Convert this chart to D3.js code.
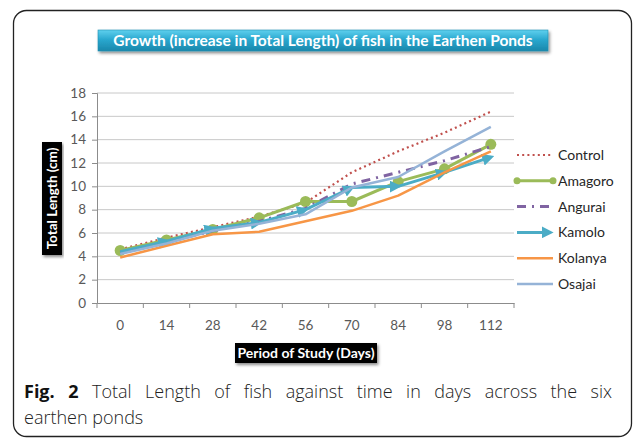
<!DOCTYPE html>
<html>
<head>
<meta charset="utf-8">
<script src="https://cdn.jsdelivr.net/npm/d3@7"></script>
<style>
  body { margin: 0; background: white; }
  #wrap { position: relative; width: 634px; height: 440px; overflow: hidden; }
  .cap {
    position: absolute; left: 24px; width: 588px;
    font-family: "Open Sans", sans-serif; font-size: 18px; line-height: 26px;
    color: #222; font-weight: 300; white-space: nowrap;
  }
  #cap1 { top: 378px; text-align: justify; text-align-last: justify; }
  #cap2 { top: 404px; }
  .cap b { font-weight: 700; color: #111; }
</style>
</head>
<body>
<div id="wrap">
<svg id="chart"></svg>
<div class="cap" id="cap1"><b>Fig. 2</b> Total Length of fish against time in days across the six</div>
<div class="cap" id="cap2">earthen ponds</div>
</div>
<script>
// growth of fish, total length (cm) per pond
var W = 634, H = 440;
var margin = {top: 93, right: 121, bottom: 137, left: 97};

var days = ["0", "14", "28", "42", "56", "70", "84", "98", "112"];
var yTicks = [0, 2, 4, 6, 8, 10, 12, 14, 16, 18];

var control = [4.6, 5.6, 6.5, 7.4, 8.6, 11.2, 13.0, 14.6, 16.4];
var amagoro = [4.5, 5.4, 6.3, 7.3, 8.7, 8.7, 10.4, 11.5, 13.6];
var angurai = [4.3, 5.2, 6.2, 7.0, 8.1, 10.2, 11.2, 12.2, 13.4];
var kamolo  = [4.4, 5.3, 6.4, 6.9, 8.0, 9.9, 10.0, 11.2, 12.5];
var kolanya = [3.9, 4.9, 5.9, 6.1, 7.0, 7.9, 9.2, 11.2, 13.0];
var osajai  = [4.2, 5.1, 6.2, 6.8, 7.6, 9.9, 10.8, 13.0, 15.1];

var series = [
  {name: "Control", values: control, color: "#c0504d", width: 2.2, dash: "2,3.2"},
  {name: "Amagoro", values: amagoro, color: "#9bbb59", width: 3, dash: null, dots: true},
  {name: "Angurai", values: angurai, color: "#8064a2", width: 3, dash: "9,6,2,6"},
  {name: "Kamolo",  values: kamolo,  color: "#4bacc6", width: 3, dash: null, arrows: true},
  {name: "Kolanya", values: kolanya, color: "#f79646", width: 2.5, dash: null},
  {name: "Osajai",  values: osajai,  color: "#95b3d7", width: 2.5, dash: null}
];

var FONT = "Lato, sans-serif";

var svg = d3.select("#chart")
  .attr("width", W)
  .attr("height", H)
  .style("position", "absolute").style("left", 0).style("top", 0);

// outer rounded frame
svg.append("rect")
  .attr("x", 13.5).attr("y", 10.5)
  .attr("width", 618).attr("height", 426)
  .attr("rx", 13)
  .attr("fill", "white")
  .attr("stroke", "#222")
  .attr("stroke-width", 1.3);

var defs = svg.append("defs");
var grad = defs.append("linearGradient").attr("id", "tgrad")
  .attr("x1", 0).attr("y1", 0).attr("x2", 0).attr("y2", 1);
grad.append("stop").attr("offset", "0%").attr("stop-color", "#5fd0ee");
grad.append("stop").attr("offset", "45%").attr("stop-color", "#2aa8cf");
grad.append("stop").attr("offset", "100%").attr("stop-color", "#1a87ab");

var shadow = defs.append("filter").attr("id", "shadow")
  .attr("x", "-10%").attr("y", "-30%").attr("width", "120%").attr("height", "170%");
shadow.append("feDropShadow").attr("dx", 1.5).attr("dy", 2).attr("stdDeviation", 1.5)
  .attr("flood-color", "#000").attr("flood-opacity", 0.45);

defs.append("marker")
  .attr("id", "arrow")
  .attr("viewBox", "0 0 10 10")
  .attr("refX", 7).attr("refY", 5)
  .attr("markerWidth", 4).attr("markerHeight", 4)
  .attr("orient", "auto")
  .append("path")
  .attr("d", "M0,0 L10,5 L0,10 z")
  .attr("fill", "#4bacc6");

// title
svg.append("rect")
  .attr("x", 98).attr("y", 30).attr("width", 450).attr("height", 21)
  .attr("fill", "url(#tgrad)")
  .attr("stroke", "#1f8fb3").attr("stroke-width", 0.6)
  .attr("filter", "url(#shadow)");

svg.append("text")
  .attr("x", 323).attr("y", 46)
  .attr("text-anchor", "middle")
  .style("font-family", FONT)
  .style("font-weight", "bold")
  .style("font-size", "15.5px")
  .attr("fill", "white")
  .text("Growth (increase in Total Length) of fish in the Earthen Ponds");

var x = d3.scaleBand()
  .domain(days)
  .range([margin.left, W - margin.right + 1]);

var y = d3.scaleLinear()
  .domain([0, 18])
  .range([H - margin.bottom, margin.top]);

// gridlines
svg.append("g")
  .selectAll("line")
  .data(yTicks.filter(d => d > 0))
  .enter()
  .append("line")
  .attr("x1", margin.left).attr("x2", x.range()[1])
  .attr("y1", d => y(d)).attr("y2", d => y(d))
  .attr("stroke", "#c8c8c8")
  .attr("stroke-width", 1);

var yAxis = g => g
  .attr("transform", `translate(${margin.left},0)`)
  .call(d3.axisLeft(y).tickValues(yTicks).tickSize(5).tickPadding(6).tickFormat(d3.format("d")))
  .call(g => g.selectAll("line, path").attr("stroke", "#8c8c8c"))
  .call(g => g.selectAll("text").attr("fill", "#595959")
    .style("font-family", FONT).style("font-size", "13.5px"));

var xAxis = g => g
  .attr("transform", `translate(0,${y(0)})`)
  .call(d3.axisBottom(x).tickSize(0).tickPadding(17).tickSizeOuter(0))
  .call(g => g.select(".domain").attr("stroke", "#8c8c8c"))
  .call(g => g.selectAll("text").attr("fill", "#595959")
    .style("font-family", FONT).style("font-size", "13.5px"));

svg.append("g").call(xAxis);
svg.append("g").call(yAxis);

// x tick marks between the categories
svg.append("g")
  .selectAll("line")
  .data(days.map(d => x(d)).concat([x.range()[1]]))
  .enter()
  .append("line")
  .attr("x1", d => d).attr("x2", d => d)
  .attr("y1", y(0)).attr("y2", y(0) + 5)
  .attr("stroke", "#8c8c8c");

// axis titles
svg.append("rect")
  .attr("x", 42).attr("y", 142).attr("width", 20).attr("height", 113)
  .attr("fill", "black").attr("filter", "url(#shadow)");
svg.append("text")
  .attr("transform", "translate(57,198.5) rotate(-90)")
  .attr("text-anchor", "middle")
  .style("font-family", FONT).style("font-weight", "bold").style("font-size", "13.5px")
  .attr("fill", "white")
  .text("Total Length (cm)");

svg.append("rect")
  .attr("x", 235).attr("y", 343).attr("width", 142).attr("height", 20)
  .attr("fill", "black").attr("filter", "url(#shadow)");
svg.append("text")
  .attr("x", 306).attr("y", 358)
  .attr("text-anchor", "middle")
  .style("font-family", FONT).style("font-weight", "bold").style("font-size", "14px")
  .attr("fill", "white")
  .text("Period of Study (Days)");

var cx = d => x(d) + x.bandwidth() / 2;

var line = d3.line()
  .x((v, i) => cx(days[i]))
  .y(v => y(v));

series.forEach(s => {
  if (s.arrows) {
    var segs = d3.pairs(s.values.map((v, i) => [cx(days[i]), y(v)]));
    svg.append("g")
      .selectAll("line")
      .data(segs)
      .enter()
      .append("line")
      .attr("x1", d => d[0][0]).attr("y1", d => d[0][1])
      .attr("x2", d => d[1][0]).attr("y2", d => d[1][1])
      .attr("stroke", s.color)
      .attr("stroke-width", s.width)
      .attr("marker-end", "url(#arrow)");
  } else {
    svg.append("path")
      .datum(s.values)
      .attr("fill", "none")
      .attr("stroke", s.color)
      .attr("stroke-width", s.width)
      .attr("stroke-dasharray", s.dash)
      .attr("stroke-linejoin", "round")
      .attr("d", line);
  }
  if (s.dots) {
    svg.append("g")
      .selectAll("circle")
      .data(s.values)
      .enter()
      .append("circle")
      .attr("cx", (v, i) => cx(days[i]))
      .attr("cy", v => y(v))
      .attr("r", 5.5)
      .attr("fill", s.color);
  }
});

// legend
var leg = svg.append("g")
  .selectAll("g")
  .data(series)
  .enter()
  .append("g")
  .attr("transform", (d, i) => `translate(517,${155 + i * 25.8})`);

leg.append("line")
  .attr("x1", 0).attr("x2", d => d.arrows ? 33 : 36)
  .attr("y1", 0).attr("y2", 0)
  .attr("stroke", d => d.color)
  .attr("stroke-width", d => d.width)
  .attr("stroke-dasharray", d => d.dash)
  .attr("marker-end", d => d.arrows ? "url(#arrow)" : null);

leg.filter(d => d.dots).selectAll("circle")
  .data([0, 36])
  .enter()
  .append("circle")
  .attr("cx", d => d).attr("cy", 0).attr("r", 3.5)
  .attr("fill", "#9bbb59");

leg.append("text")
  .attr("x", 41).attr("y", 5)
  .style("font-family", FONT).style("font-size", "14px")
  .attr("fill", "#262626")
  .text(d => d.name);
</script>
</body>
</html>
